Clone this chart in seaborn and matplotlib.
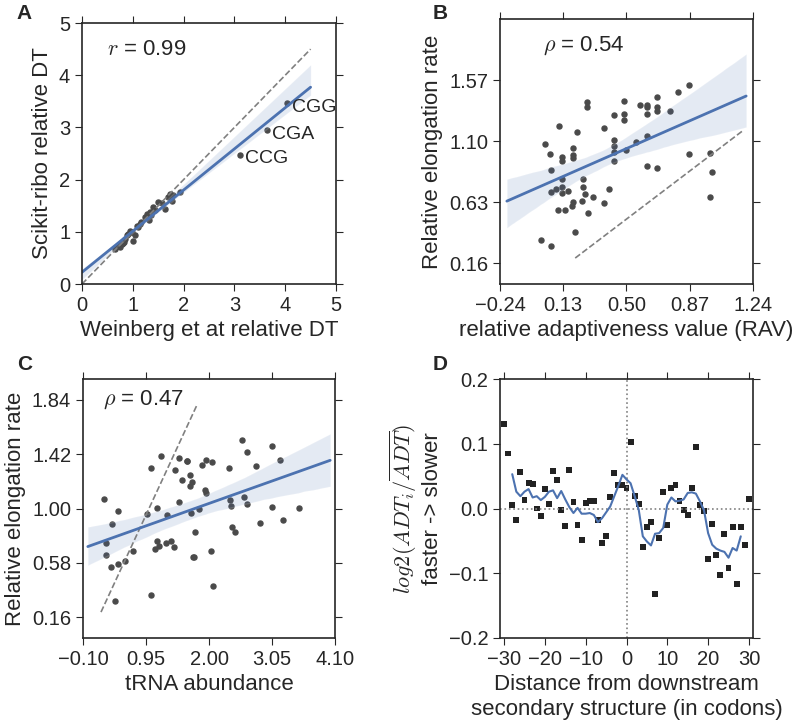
import numpy as np
import pandas as pd
import seaborn as sns
import matplotlib.pyplot as plt

# ---- Panel A: Weinberg vs Scikit-ribo relative DT
a_weinberg = [0.65, 0.72, 0.75, 0.78, 0.81, 0.85, 0.88, 0.91, 0.94, 0.98, 1.01, 1.04,
              1.08, 1.11, 1.17, 1.24, 1.27, 1.31, 1.34, 1.40, 1.50, 1.63, 1.70, 1.73,
              1.77, 1.80, 1.92, 0.70, 0.83, 0.96, 1.15, 1.36, 1.44, 1.58,
              3.11, 3.64, 4.03]
a_scikit = [0.67, 0.74, 0.70, 0.77, 0.78, 0.86, 0.93, 0.96, 1.02, 0.99, 0.83, 0.93,
            1.12, 1.09, 1.18, 1.28, 1.34, 1.22, 1.38, 1.47, 1.57, 1.44, 1.66, 1.73,
            1.60, 1.70, 1.77, 0.72, 0.80, 1.00, 1.15, 1.33, 1.42, 1.55,
            2.48, 2.95, 3.46]
a_labels = ['CCG', 'CGA', 'CGG']
a_ticks = [0, 1, 2, 3, 4, 5]

# ---- Panel B: RAV vs relative elongation rate
b_rav = [0.00, 0.06, 0.20, 0.025, 0.05, 0.06, 0.056, 0.087, 0.107, 0.12, 0.12, 0.12,
         0.12, 0.12, 0.097, 0.14, 0.16, 0.185, 0.185, 0.185, 0.185, 0.18, 0.21, 0.243,
         0.247, 0.26, 0.267, 0.267, 0.277, 0.24, 0.306, 0.368, 0.368, 0.40, 0.429,
         0.429, 0.429, 0.429, 0.429, 0.487, 0.487, 0.487, 0.495, 0.553, 0.579, 0.618,
         0.618, 0.618, 0.618, 0.618, 0.676, 0.676, 0.676, 0.676, 0.754, 0.803, 0.863,
         0.863, 0.986, 1.00, 0.986]
b_rate = [0.34, 0.29, 0.40, 1.075, 1.00, 0.88, 0.71, 0.73, 1.22, 0.98, 0.95, 0.81,
          0.75, 0.70, 0.57, 0.57, 0.72, 1.05, 0.99, 0.97, 0.63, 0.60, 1.17, 0.81,
          0.75, 0.69, 1.40, 1.36, 0.55, 0.64, 0.67, 1.20, 0.62, 0.73, 1.30,
          1.11, 1.06, 1.02, 0.95, 1.41, 1.31, 1.26, 1.03, 1.09, 1.38, 1.38,
          1.36, 1.31, 1.14, 0.91, 1.44, 1.36, 1.33, 0.89, 1.33, 1.48, 1.53,
          1.00, 1.01, 0.86, 0.67]

# ---- Panel C: tRNA abundance vs relative elongation rate
c_trna = [0.243, 0.282, 0.282, 0.381, 0.365, 0.437, 0.476, 0.487, 0.603, 0.741, 0.963,
          1.040, 1.040, 1.095, 1.129, 1.129, 1.173, 1.195, 1.284, 1.295, 1.361, 1.416,
          1.427, 1.494, 1.494, 1.555, 1.627, 1.638, 1.682, 1.682, 1.710, 1.693, 1.732,
          1.748, 1.765, 1.831, 1.881, 1.931, 1.942, 1.948, 2.025, 2.042, 2.064, 2.340,
          2.346, 2.368, 2.390, 2.429, 2.545, 2.578, 2.628, 2.634, 2.783, 2.844, 3.043,
          3.043, 3.187, 3.226, 3.492]
c_rate = [1.077, 0.730, 0.643, 0.879, 0.550, 0.286, 0.571, 0.982, 0.597, 0.674, 0.954,
          1.316, 0.335, 0.687, 1.003, 0.748, 0.712, 1.406, 0.730, 0.949, 0.751, 0.705,
          1.298, 1.393, 1.051, 1.223, 1.365, 1.365, 1.259, 1.172, 1.203, 0.967, 0.622,
          0.628, 0.815, 1.000, 1.336, 1.141, 1.121, 1.378, 0.671, 1.357, 0.399, 1.311,
          1.064, 1.018, 0.856, 0.815, 1.527, 1.090, 1.033, 1.437, 1.331, 0.887, 1.480,
          1.013, 1.378, 0.910, 1.005]

# ---- Panel D: distance from secondary structure
d_dist = list(range(-30, 31))
d_adt = [0.131, 0.085, 0.005, -0.018, 0.057, 0.013, 0.039, 0.038, 0.000, -0.011,
         0.030, 0.007, 0.058, 0.044, -0.002, -0.027, 0.059, 0.010, -0.025, -0.048,
         0.008, 0.012, 0.012, -0.018, -0.053, -0.042, 0.018, 0.055, 0.036, 0.036,
         0.031, 0.103, 0.019, 0.007, -0.059, -0.028, -0.021, -0.132, -0.045, 0.025,
         -0.026, 0.031, 0.036, 0.011, -0.003, -0.010, 0.031, 0.095, 0.005, -0.004,
         -0.078, -0.024, -0.072, -0.103, -0.039, -0.092, -0.029, -0.116, -0.029,
         -0.056, 0.014]
d_smooth_x = list(range(-28, 29))
d_smooth = [0.053, 0.026, 0.019, 0.026, 0.030, 0.017, 0.019, 0.013, 0.018, 0.026,
            0.028, 0.016, 0.027, 0.014, 0.002, -0.007, 0.001, -0.008, -0.008, -0.007,
            -0.010, -0.021, -0.015, -0.006, 0.003, 0.019, 0.035, 0.052, 0.045, 0.039,
            0.019, -0.002, -0.043, -0.051, -0.057, -0.039, -0.038, -0.030, 0.006, 0.017,
            0.011, 0.012, 0.014, 0.024, 0.025, 0.023, 0.011, -0.003, -0.038, -0.056,
            -0.062, -0.065, -0.067, -0.076, -0.061, -0.065, -0.043]
d_xticks = [-30, -20, -10, 0, 10, 20, 30]
d_yticks = [-0.2, -0.1, 0.0, 0.1, 0.2]

b_ticks = [-0.24, 0.13, 0.50, 0.87, 1.24]
b_yticks = [0.16, 0.63, 1.10, 1.57]
c_ticks = [-0.10, 0.95, 2.00, 3.05, 4.10]
c_yticks = [0.16, 0.58, 1.00, 1.42, 1.84]

sns.set_style('ticks')
plt.rcParams['font.family'] = ['Liberation Sans', 'DejaVu Sans']
plt.rcParams['mathtext.fontset'] = 'cm'
plt.rcParams['xtick.top'] = True
plt.rcParams['ytick.right'] = True
plt.rcParams['xtick.labelsize'] = 14.5
plt.rcParams['ytick.labelsize'] = 14.5
plt.rcParams['axes.labelsize'] = 16

blue = '#4C72B0'
pt = '#4a4a4a'


def fmt(v):
    return ('%.2f' % v).replace('-', '\u2212')


fig = plt.figure(figsize=(8, 7.24), dpi=100)
axA = fig.add_axes([0.1025, 0.6077, 0.3175, 0.3605])
axB = fig.add_axes([0.625, 0.6077, 0.31625, 0.366])
axC = fig.add_axes([0.10375, 0.1188, 0.315, 0.3577])
axD = fig.add_axes([0.625, 0.1188, 0.31625, 0.3577])

# A
axA.set_xlim(0, 4.5)
axA.plot([0, 4.5], [0, 4.5], ls='--', color='grey', lw=1.2)
sns.regplot(x=a_weinberg, y=a_scikit, ax=axA, color=blue, truncate=False, seed=0,
            scatter_kws={'color': pt, 's': 13, 'alpha': 1}, line_kws={'lw': 2})
for lab, xx, yy in zip(a_labels, a_weinberg[-3:], a_scikit[-3:]):
    axA.text(xx + 0.1, yy - 0.08, lab, fontsize=14, color='#262626', va='center')
axA.set_xlim(0, 5)
axA.set_ylim(0, 5)
axA.set_xticks(a_ticks)
axA.set_yticks(a_ticks)
axA.set_xlabel('Weinberg et at relative DT')
axA.set_ylabel('Scikit-ribo relative DT')
axA.text(0.1, 0.9, '$r$ = 0.99', transform=axA.transAxes, fontsize=16, va='center')

# B
axB.set_xlim(-0.2, 1.2)
axB.plot([0.2, 1.18], [0.2, 1.18], ls='--', color='grey', lw=1.2)
sns.regplot(x=b_rav, y=b_rate, ax=axB, color=blue, truncate=False, seed=0,
            scatter_kws={'color': pt, 's': 13, 'alpha': 1}, line_kws={'lw': 2})
axB.set_xlim(-0.24, 1.24)
axB.set_ylim(0.0, 2.04)
axB.set_xticks(b_ticks)
axB.set_xticklabels([fmt(v) for v in b_ticks])
axB.set_yticks(b_yticks)
axB.set_yticklabels([fmt(v) for v in b_yticks])
axB.set_xlabel('relative adaptiveness value (RAV)')
axB.set_ylabel('Relative elongation rate')
axB.text(0.17, 0.9, r'$\rho$ = 0.54', transform=axB.transAxes, fontsize=16, va='center')

# C
axC.set_xlim(-0.02, 4.02)
axC.plot([0.2, 1.8], [0.2, 1.8], ls='--', color='grey', lw=1.2)
sns.regplot(x=c_trna, y=c_rate, ax=axC, color=blue, truncate=False, seed=0,
            scatter_kws={'color': pt, 's': 13, 'alpha': 1}, line_kws={'lw': 2})
axC.set_xlim(-0.10, 4.10)
axC.set_ylim(0.0, 2.0)
axC.set_xticks(c_ticks)
axC.set_xticklabels([fmt(v) for v in c_ticks])
axC.set_yticks(c_yticks)
axC.set_yticklabels([fmt(v) for v in c_yticks])
axC.set_xlabel('tRNA abundance')
axC.set_ylabel('Relative elongation rate')
axC.text(0.08, 0.92, r'$\rho$ = 0.47', transform=axC.transAxes, fontsize=16, va='center')

# D
axD.axhline(0, ls=':', color='grey', lw=1.2)
axD.axvline(0, ls=':', color='grey', lw=1.2)
sns.scatterplot(x=d_dist, y=d_adt, ax=axD, color='#222222', marker='s', s=18,
                edgecolor='none')
sns.lineplot(x=d_smooth_x, y=d_smooth, ax=axD, color=blue, lw=1.5)
axD.set_xlim(-31, 31)
axD.set_ylim(-0.2, 0.2)
axD.set_xticks(d_xticks)
axD.set_yticks(d_yticks)
axD.set_xlabel('Distance from downstream\nsecondary structure (in codons)')
axD.set_ylabel('$log2(ADT_i/\\overline{ADT})$\nfaster -> slower')

for ax in [axA, axB, axC, axD]:
    ax.tick_params(direction='out', length=5)
    for s in ax.spines.values():
        s.set_linewidth(1.2)
        s.set_color('#262626')

fig.text(0.021, 0.982, 'A', fontsize=15, fontweight='bold', va='center')
fig.text(0.541, 0.982, 'B', fontsize=15, fontweight='bold', va='center')
fig.text(0.021, 0.497, 'C', fontsize=15, fontweight='bold', va='center')
fig.text(0.541, 0.497, 'D', fontsize=15, fontweight='bold', va='center')

fig.savefig('out.png', dpi=100)
